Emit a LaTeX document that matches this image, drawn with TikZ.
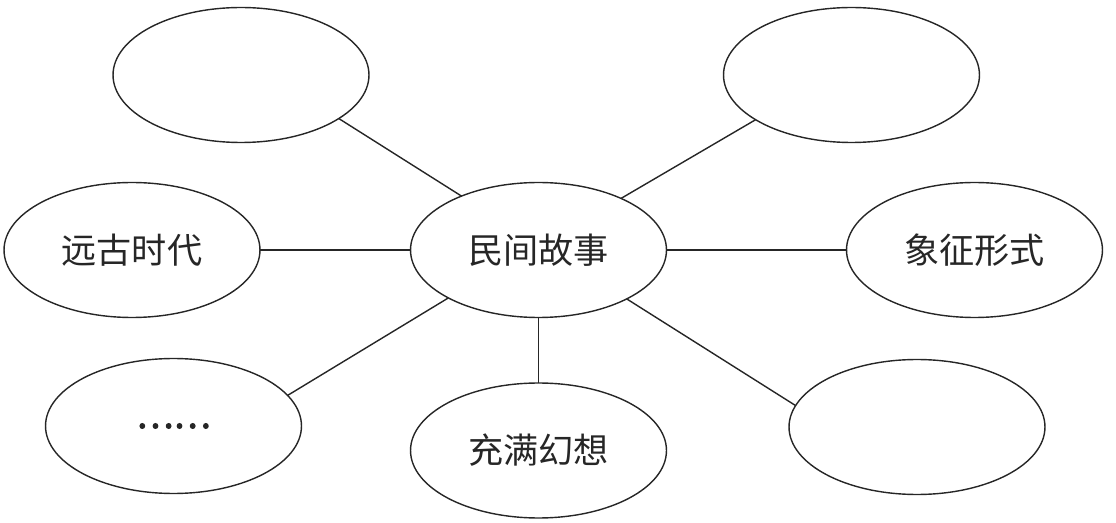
\documentclass[tikz,border=0pt]{standalone}
\usepackage{fontspec}
\newfontfamily\cjk{Noto Sans CJK SC}
\newfontfamily\cjkdots[FakeBold=3]{Noto Sans CJK SC}
\usetikzlibrary{shapes.geometric}
\tikzset{
  bubble/.style={draw=black!85, line width=0.8pt, ellipse, minimum width=5.12cm, minimum height=2.7cm, inner sep=0pt, outer sep=0pt, font=\cjk\fontsize{20}{24}\selectfont, text=black!85},
  link/.style={draw=black!85, line width=0.8pt}
}
\begin{document}
\begin{tikzpicture}[x=0.02cm, y=-0.02cm]
\useasboundingbox (0,0) rectangle (1116,523);
\node[bubble] (TL) at (241,75) {};
\node[bubble] (TR) at (851.5,75) {};
\node[bubble] (L) at (132,250) {远古时代};
\node[bubble] (C) at (538.5,250) {民间故事};
\node[bubble] (R) at (974.5,250) {象征形式};
\node[bubble] (BL) at (173.5,426) {\cjkdots\raisebox{-1.5pt}{……}};
\node[bubble] (B) at (538.5,450.5) {充满幻想};
\node[bubble] (BR) at (917,427) {};
\draw[link] (C.145) -- (TL.336);
\draw[link] (C.32) -- (TR.205);
\draw[link] (C.180) -- (L.0);
\draw[link] (C.0) -- (R.180);
\draw[link] (C.208) -- (BL.15);
\draw[link] (C.270) -- (B.90);
\draw[link] (C.331) -- (BR.170);
\end{tikzpicture}
\end{document}
